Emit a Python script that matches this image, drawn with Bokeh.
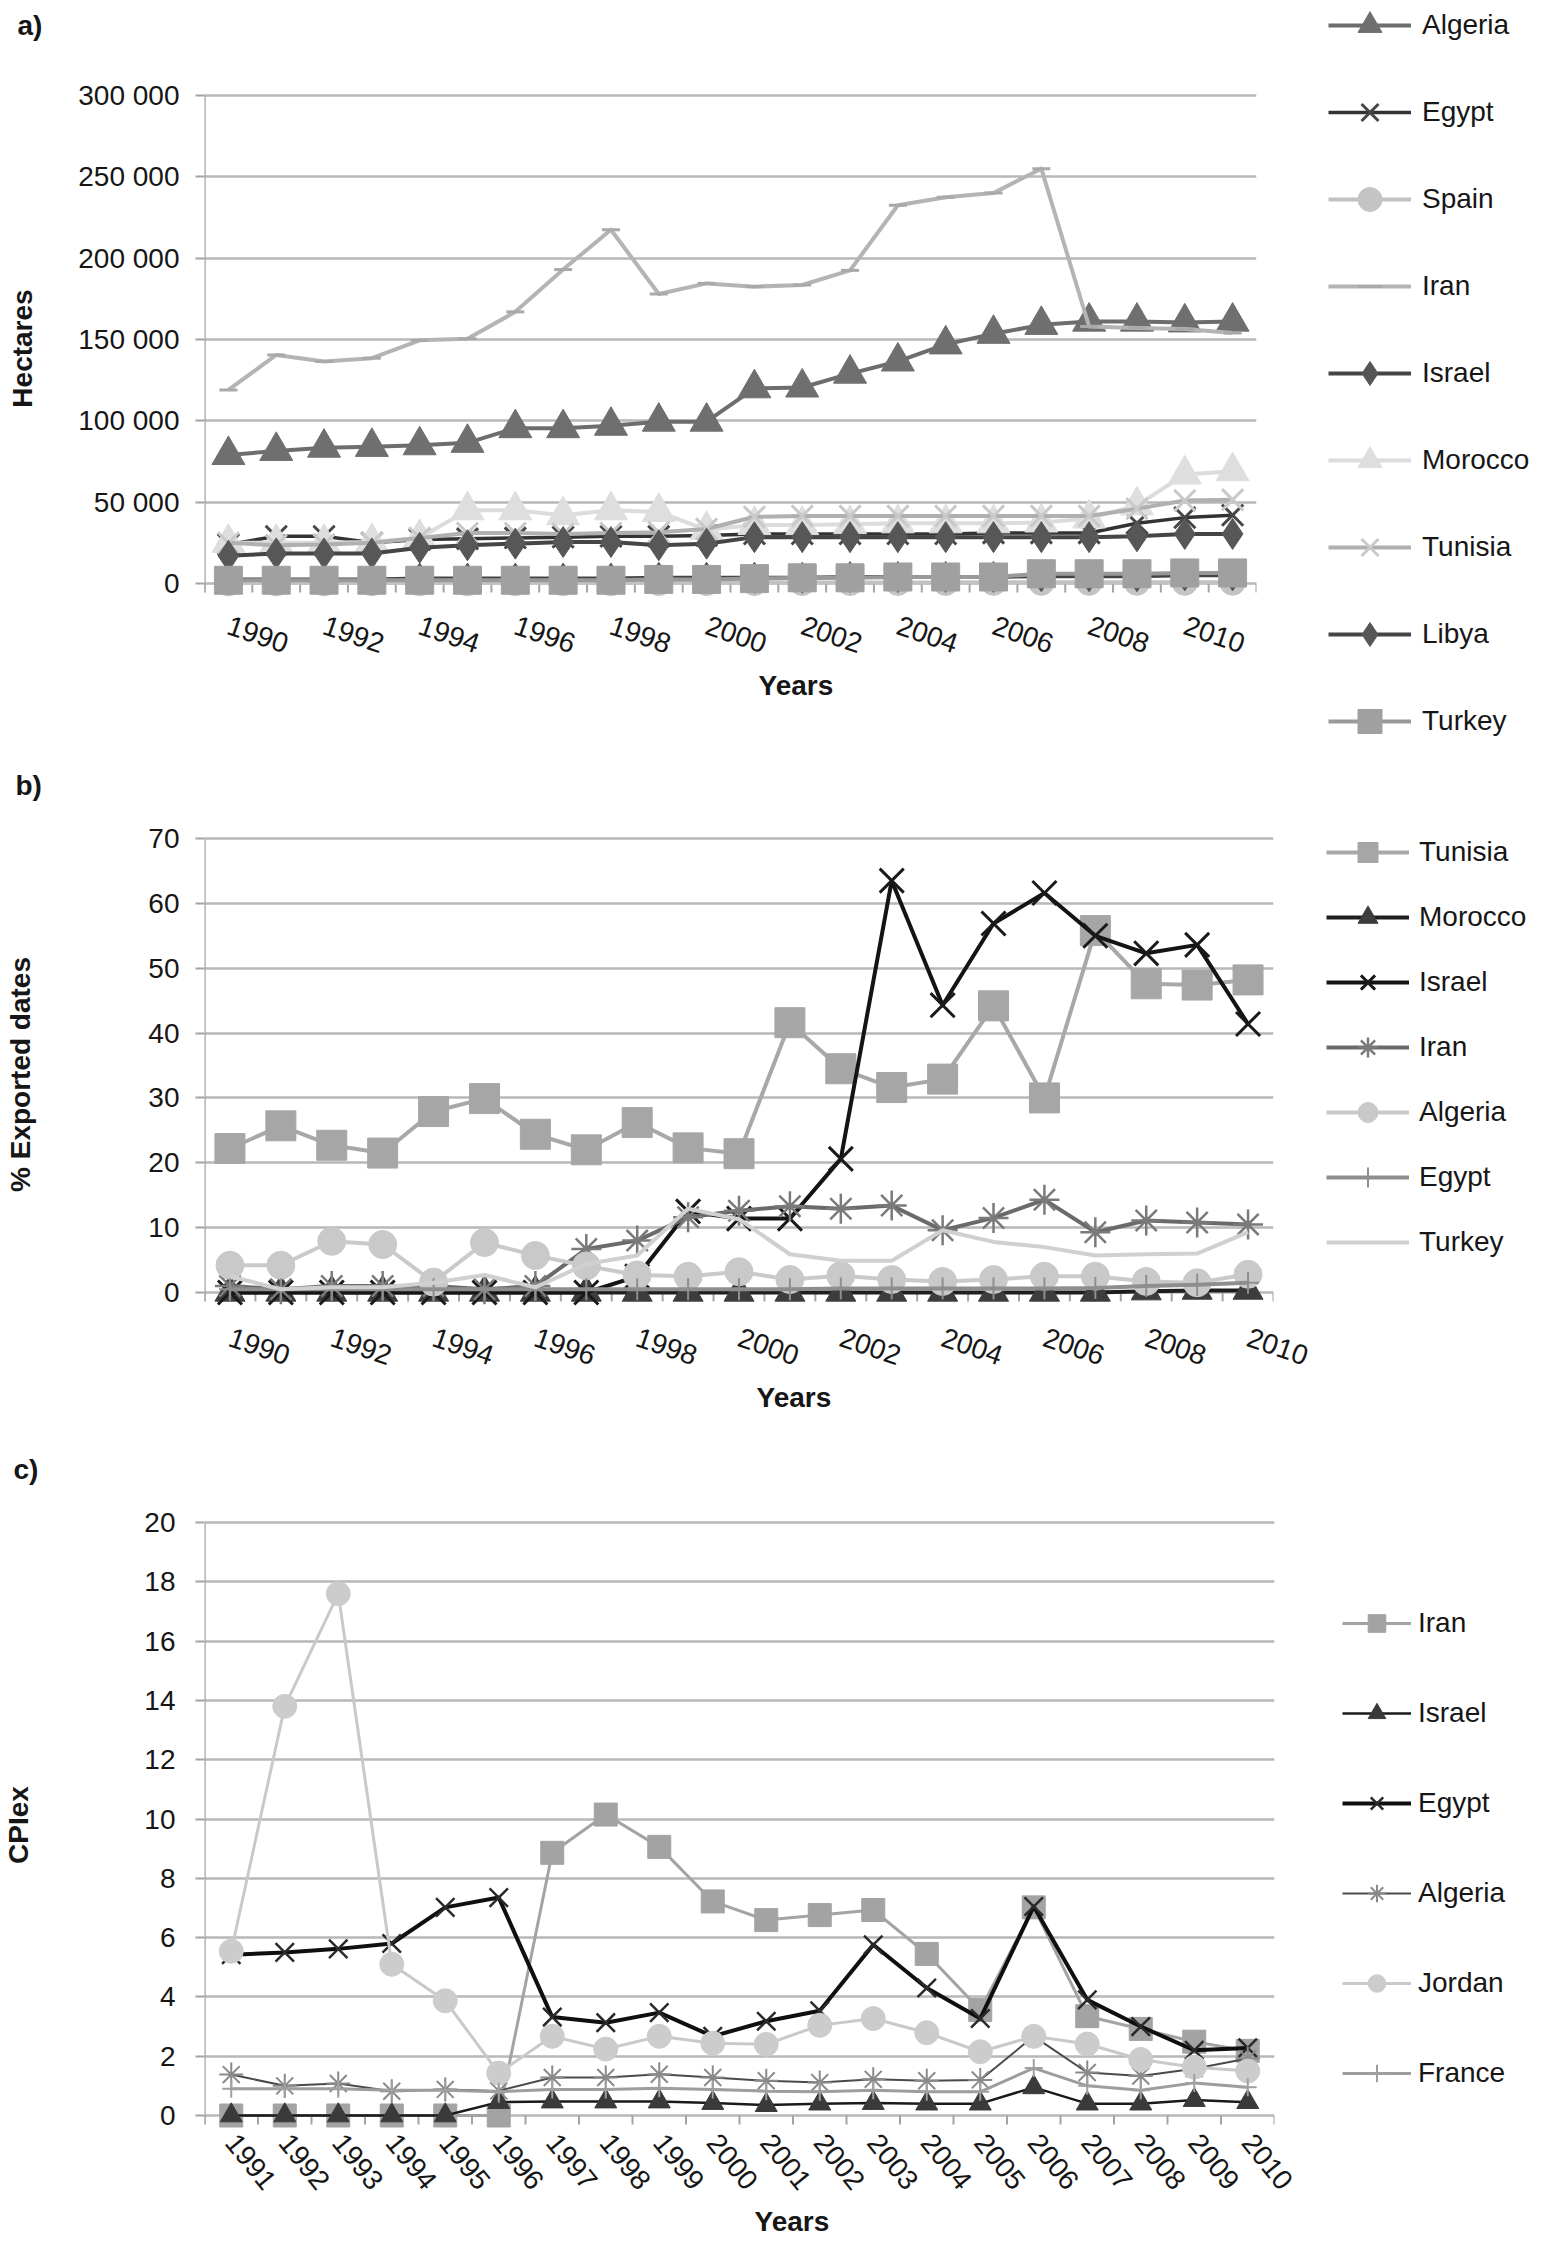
import math
from bokeh.plotting import figure
from bokeh.models import FixedTicker, Legend, LegendItem, Title
from bokeh.layouts import column
from bokeh.embed import file_html
from bokeh.resources import INLINE

# ------------------------------------------------------------------ data
# a) Hectares, 1990-2011
years_a = list(range(1990, 2012))
xticks_a = list(range(1990, 2011, 2))
yticks_a = [0, 50000, 100000, 150000, 200000, 250000, 300000]
algeria_a = [79000, 81500, 83500, 84000, 85000, 86500, 95500, 95500, 97000, 99500, 99500,
             120000, 120500, 129000, 136500, 147000, 153500, 159000, 161000, 161000, 160500, 161000]
egypt_a = [24000, 29000, 29000, 25000, 27000, 27500, 28000, 28500, 29000, 29000, 29500,
           30500, 30500, 30500, 30500, 30500, 31000, 31000, 31000, 37000, 40500, 42000]
spain_a = [400, 400, 400, 450, 450, 450, 500, 500, 500, 550, 550,
           600, 600, 600, 650, 650, 700, 700, 700, 750, 750, 800]
iran_a = [119000, 140500, 136500, 138500, 149500, 150500, 167000, 193000, 217500, 178000, 184500,
          182500, 183500, 192500, 232500, 237500, 240000, 255000, 158000, 157000, 156500, 154000]
israel_a = [2500, 2500, 2500, 2500, 3000, 3000, 3000, 3000, 3000, 3500, 3500,
            3500, 3500, 4000, 4000, 4000, 4000, 4500, 4500, 4500, 5000, 5000]
morocco_a = [25000, 25000, 25000, 25500, 28000, 45000, 45000, 42000, 45000, 44000, 33000,
             36000, 36000, 36500, 37000, 37000, 37000, 37500, 40000, 48000, 67000, 69000]
tunisia_a = [25000, 23500, 24000, 25000, 28000, 31000, 31000, 30500, 31000, 31500, 33500,
             41000, 41500, 41500, 41500, 41500, 41500, 41500, 41500, 46000, 51000, 51500]
libya_a = [17000, 18500, 18500, 18500, 22000, 23500, 24500, 25500, 25500, 23500, 24500,
           28500, 28500, 28500, 28500, 28500, 28500, 28500, 28500, 29000, 30500, 30500]
turkey_a = [2000, 2000, 2000, 2000, 2000, 2000, 2000, 2000, 2000, 2500, 2500,
            3000, 3500, 3500, 4000, 4000, 4000, 6000, 6000, 6000, 6500, 6500]

# b) % Exported dates, 1990-2010
years_b = list(range(1990, 2011))
xticks_b = list(range(1990, 2011, 2))
yticks_b = [0, 10, 20, 30, 40, 50, 60, 70]
tunisia_b = [22.2, 25.7, 22.7, 21.5, 27.9, 29.9, 24.4, 22.0, 26.2, 22.3, 21.4,
             41.6, 34.5, 31.6, 32.9, 44.2, 30.0, 55.8, 47.6, 47.4, 48.2]
morocco_b = [0.0, 0.0, 0.0, 0.0, 0.0, 0.0, 0.0, 0.0, 0.0, 0.0, 0.0,
             0.0, 0.0, 0.0, 0.0, 0.0, 0.0, 0.0, 0.2, 0.3, 0.3]
israel_b = [0.0, 0.0, 0.0, 0.0, 0.0, 0.0, 0.0, 0.0, 2.5, 12.5, 11.4,
            11.4, 20.6, 63.5, 44.3, 56.9, 61.6, 55.0, 52.3, 53.6, 41.4]
iran_b = [1.0, 0.5, 1.0, 1.0, 1.0, 0.5, 1.0, 6.7, 8.0, 11.6, 12.6,
          13.3, 12.9, 13.4, 9.6, 11.5, 14.3, 9.3, 11.1, 10.8, 10.5]
algeria_b = [4.2, 4.2, 7.9, 7.4, 1.6, 7.7, 5.7, 4.1, 2.7, 2.5, 3.2,
             2.0, 2.6, 2.0, 1.7, 2.0, 2.5, 2.5, 1.7, 1.5, 2.8]
egypt_b = [0.5, 0.5, 0.5, 0.5, 0.5, 0.5, 0.5, 0.5, 0.5, 0.5, 0.5,
           0.5, 0.6, 0.6, 0.6, 0.6, 0.6, 0.7, 1.0, 1.2, 1.5]
turkey_b = [2.5, 0.5, 0.8, 0.8, 1.5, 2.7, 0.8, 4.4, 5.7, 12.9, 11.3,
            5.9, 4.9, 4.9, 9.6, 7.8, 7.0, 5.7, 5.9, 6.0, 9.3]

# c) CPIex, 1991-2010
years_c = list(range(1991, 2011))
xticks_c = list(range(1991, 2011))
yticks_c = [0, 2, 4, 6, 8, 10, 12, 14, 16, 18, 20]
iran_c = [0.0, 0.0, 0.0, 0.0, 0.0, 0.0, 8.86, 10.15, 9.06, 7.22, 6.59, 6.76, 6.93, 5.45, 3.56,
          7.02, 3.35, 2.92, 2.49, 2.18]
israel_c = [0.0, 0.0, 0.0, 0.0, 0.0, 0.45, 0.47, 0.47, 0.47, 0.42, 0.35, 0.4, 0.42, 0.4, 0.4,
            0.95, 0.4, 0.4, 0.52, 0.45]
egypt_c = [5.42, 5.5, 5.62, 5.8, 7.02, 7.35, 3.32, 3.13, 3.47, 2.67, 3.18, 3.53, 5.76, 4.3, 3.27,
           7.05, 3.9, 3.0, 2.2, 2.28]
algeria_c = [1.38, 1.0, 1.08, 0.82, 0.88, 0.83, 1.28, 1.28, 1.39, 1.28, 1.17, 1.11, 1.22, 1.17, 1.2,
             2.67, 1.45, 1.33, 1.58, 1.92]
jordan_c = [5.54, 13.8, 17.6, 5.1, 3.87, 1.43, 2.67, 2.24, 2.67, 2.44, 2.4, 3.04, 3.27, 2.79, 2.15,
            2.67, 2.41, 1.89, 1.63, 1.5]
france_c = [0.9, 0.9, 0.9, 0.85, 0.85, 0.8, 0.88, 0.88, 0.92, 0.88, 0.82, 0.8, 0.85, 0.8, 0.8,
            1.6, 1.0, 0.85, 1.1, 0.95]

# ------------------------------------------------------------------ style
FONT = "Liberation Sans"
TXT = "#161616"
GRID = "#b8b8b8"
AXC = "#a4a4a4"
FS = "28px"
PAGE_W = 1527
DY = 10  # global vertical nudge of every panel's contents


def fmt_space(v):
    return f"{v:,}".replace(",", " ")


def build(c):
    top_y = c["top_y"] + DY
    zero_y = c["zero_y"] + DY
    ppu = (zero_y - top_y) / c["ymax"]
    frame_top = top_y - 2
    frame_bottom = zero_y + c["pad"]
    y_end = c["ymax"] + 2 / ppu
    y_start = -c["pad"] / ppu
    tl = 9 / ppu
    years = c["years"]
    x0 = years[0] - 0.5
    x1 = years[-1] + 0.5

    p = figure(frame_width=c["right"] - c["left"], frame_height=frame_bottom - frame_top,
               min_border_left=c["left"] - 8, min_border_right=PAGE_W - (c["right"] - 8),
               min_border_top=frame_top - c["fig_top"],
               min_border_bottom=c["fig_top"] + c["fig_h"] - frame_bottom,
               x_range=(x0, x1), y_range=(y_start, y_end),
               output_backend="svg", toolbar_location=None)
    p.outline_line_color = None
    p.background_fill_color = "white"
    p.border_fill_color = "white"

    # y axis
    yt = FixedTicker(ticks=c["yticks"])
    p.yaxis.ticker = yt
    p.ygrid.ticker = yt
    if c.get("yfmt"):
        p.yaxis.major_label_overrides = {v: c["yfmt"](v) for v in c["yticks"]}
    p.yaxis.axis_line_color = None
    p.yaxis.major_tick_out = 9
    p.yaxis.major_tick_in = 0
    p.yaxis.major_tick_line_color = AXC
    p.yaxis.major_tick_line_width = 2
    p.yaxis.minor_tick_line_color = None
    p.yaxis.major_label_standoff = c["ystand"]
    p.yaxis.major_label_text_font = FONT
    p.yaxis.major_label_text_font_size = FS
    p.yaxis.major_label_text_color = TXT
    p.yaxis.axis_label = c["ytitle"]
    p.yaxis.axis_label_standoff = c["ytitle_stand"]
    p.yaxis.axis_label_text_font = FONT
    p.yaxis.axis_label_text_font_style = "bold"
    p.yaxis.axis_label_text_font_size = FS
    p.yaxis.axis_label_text_color = TXT
    p.ygrid.grid_line_color = GRID
    p.ygrid.grid_line_width = 2.5
    p.xgrid.visible = False

    # x axis
    p.xaxis.ticker = FixedTicker(ticks=c["xticks"])
    p.xaxis.major_label_overrides = {v: str(v) for v in c["xticks"]}
    p.xaxis.major_label_orientation = c["xorient"]
    p.xaxis.axis_line_color = None
    p.xaxis.major_tick_line_color = None
    p.xaxis.minor_tick_line_color = None
    p.xaxis.major_label_standoff = c["xstand"]
    p.xaxis.major_label_text_font = FONT
    p.xaxis.major_label_text_font_size = FS
    p.xaxis.major_label_text_color = TXT

    # axis line + category boundary ticks
    bounds = [y - 0.5 for y in years] + [x1]
    p.segment(x0=bounds, y0=[0] * len(bounds), x1=bounds, y1=[-tl] * len(bounds),
              line_color=AXC, line_width=2)
    p.segment(x0=[x0], y0=[-tl], x1=[x0], y1=[c["ymax"]], line_color=AXC, line_width=2.5)

    items = []
    for s in c["series"]:
        rs = [p.line(years, s["v"], line_color=s["lc"], line_width=s["lw"], line_join="round")]
        if s.get("m"):
            m = s["m"]
            filled = m in ("triangle", "circle", "square", "diamond")
            kw = dict(marker=m, size=s["size"])
            if filled:
                kw.update(fill_color=s["mc"], line_color=s["mc"], line_width=1)
            else:
                kw.update(fill_color=None, line_color=s["mc"], line_width=s.get("mlw", 2.5))
            rs.append(p.scatter(years, s["v"], **kw))
        items.append(LegendItem(label=s["name"], renderers=rs))

    lg = c["legend"]
    gh = lg["gh"]
    n = len(items)
    sp = lg["step"] - gh
    leg_top = lg["first"] + DY - gh / 2
    leg_h = n * gh + (n - 1) * sp
    legend = Legend(items=items,
                    location=(lg["gx"] + 5 - c["right"], frame_bottom - (leg_top + leg_h)),
                    orientation="vertical", glyph_height=gh, glyph_width=lg["gw"],
                    label_height=gh, spacing=int(round(sp)), label_standoff=lg["stand"],
                    padding=0, margin=0, border_line_color=None, background_fill_alpha=0,
                    label_text_font=FONT, label_text_font_size=FS, label_text_color=TXT)
    p.add_layout(legend, "right")

    # panel letter (above, with a blank spacer next to the frame) and x-axis title (below)
    p.add_layout(Title(text=" ", text_font_size="1px", standoff=c["spacer"]), "above")
    p.add_layout(Title(text=c["letter"], align="left", offset=17 - c["left"], standoff=0,
                       text_font=FONT, text_font_style="bold",
                       text_font_size=FS, text_color=TXT), "above")
    p.add_layout(Title(text="Years", align="left", offset=758 - c["left"], vertical_align="top",
                       standoff=c["years_stand"], text_font=FONT, text_font_style="bold",
                       text_font_size=FS, text_color=TXT), "below")
    return p


cfg_a = dict(years=years_a, xticks=xticks_a, yticks=yticks_a, ymax=300000, yfmt=fmt_space,
             fig_top=8, fig_h=756, left=204, right=1256, top_y=93, zero_y=581, pad=20,
             ystand=16, xstand=15, xorient=-0.33,
             letter="a)", spacer=50, ytitle="Hectares", ytitle_stand=37, years_stand=8,
             legend=dict(first=21, step=87.2, gx=1323, gw=83, gh=60, stand=11),
             series=[
                 dict(name="Algeria", v=algeria_a, lc="#6d6d6d", lw=4, m="triangle", mc="#6f6f6f", size=33),
                 dict(name="Egypt", v=egypt_a, lc="#333333", lw=3.5, m="x", mc="#474747", size=30, mlw=3),
                 dict(name="Spain", v=spain_a, lc="#c2c2c2", lw=4, m="circle", mc="#c4c4c4", size=26),
                 dict(name="Iran", v=iran_a, lc="#b4b4b4", lw=4, m="dash", mc="#a9a9a9", size=18, mlw=3),
                 dict(name="Israel", v=israel_a, lc="#454545", lw=4, m="diamond", mc="#555555", size=31),
                 dict(name="Morocco", v=morocco_a, lc="#dcdcdc", lw=4, m="triangle", mc="#dedede", size=33),
                 dict(name="Tunisia", v=tunisia_a, lc="#b0b0b0", lw=4, m="x", mc="#c9c9c9", size=30, mlw=3),
                 dict(name="Libya", v=libya_a, lc="#454545", lw=4, m="diamond", mc="#575757", size=31),
                 dict(name="Turkey", v=turkey_a, lc="#999999", lw=4, m="square", mc="#a0a0a0", size=28),
             ])

cfg_b = dict(years=years_b, xticks=xticks_b, yticks=yticks_b, ymax=70,
             fig_top=764, fig_h=670, left=206, right=1275, top_y=836, zero_y=1290, pad=20,
             ystand=16, xstand=18, xorient=-0.33,
             letter="b)", spacer=33, ytitle="% Exported dates", ytitle_stand=109, years_stand=8,
             legend=dict(first=850, step=65, gx=1323, gw=83, gh=50, stand=10),
             series=[
                 dict(name="Tunisia", v=tunisia_b, lc="#a8a8a8", lw=4, m="square", mc="#a6a6a6", size=30),
                 dict(name="Morocco", v=morocco_b, lc="#1e1e1e", lw=4, m="triangle", mc="#3d3d3d", size=30),
                 dict(name="Israel", v=israel_b, lc="#141414", lw=4, m="x", mc="#1a1a1a", size=34, mlw=3),
                 dict(name="Iran", v=iran_b, lc="#6a6a6a", lw=4, m="asterisk", mc="#7a7a7a", size=30, mlw=2.5),
                 dict(name="Algeria", v=algeria_b, lc="#cacaca", lw=4, m="circle", mc="#c9c9c9", size=28),
                 dict(name="Egypt", v=egypt_b, lc="#8e8e8e", lw=4, m="cross", mc="#8e8e8e", size=22, mlw=2),
                 dict(name="Turkey", v=turkey_b, lc="#d0d0d0", lw=4),
             ])

cfg_c = dict(years=years_c, xticks=xticks_c, yticks=yticks_c, ymax=20,
             fig_top=1434, fig_h=812, left=208, right=1278, top_y=1520, zero_y=2113, pad=14,
             ystand=20, xstand=2, xorient=-0.89,
             letter="c)", spacer=33, ytitle="CPIex", ytitle_stand=107, years_stand=11,
             legend=dict(first=1620, step=90.2, gx=1341, gw=69, gh=44, stand=7),
             series=[
                 dict(name="Iran", v=iran_c, lc="#a3a3a3", lw=3, m="square", mc="#a3a3a3", size=23),
                 dict(name="Israel", v=israel_c, lc="#1a1a1a", lw=2.5, m="triangle", mc="#3a3a3a", size=22),
                 dict(name="Egypt", v=egypt_c, lc="#0f0f0f", lw=4, m="x", mc="#2a2a2a", size=26, mlw=2.5),
                 dict(name="Algeria", v=algeria_c, lc="#4a4a4a", lw=2, m="asterisk", mc="#8a8a8a", size=24, mlw=2),
                 dict(name="Jordan", v=jordan_c, lc="#c9c9c9", lw=3, m="circle", mc="#cccccc", size=24),
                 dict(name="France", v=france_c, lc="#9d9d9d", lw=3, m="cross", mc="#a0a0a0", size=18, mlw=2),
             ])

pa = build(cfg_a)
pb = build(cfg_b)
pc = build(cfg_c)
layout = column(pa, pb, pc, spacing=0)

open("out.html", "w").write(file_html(layout, INLINE))
